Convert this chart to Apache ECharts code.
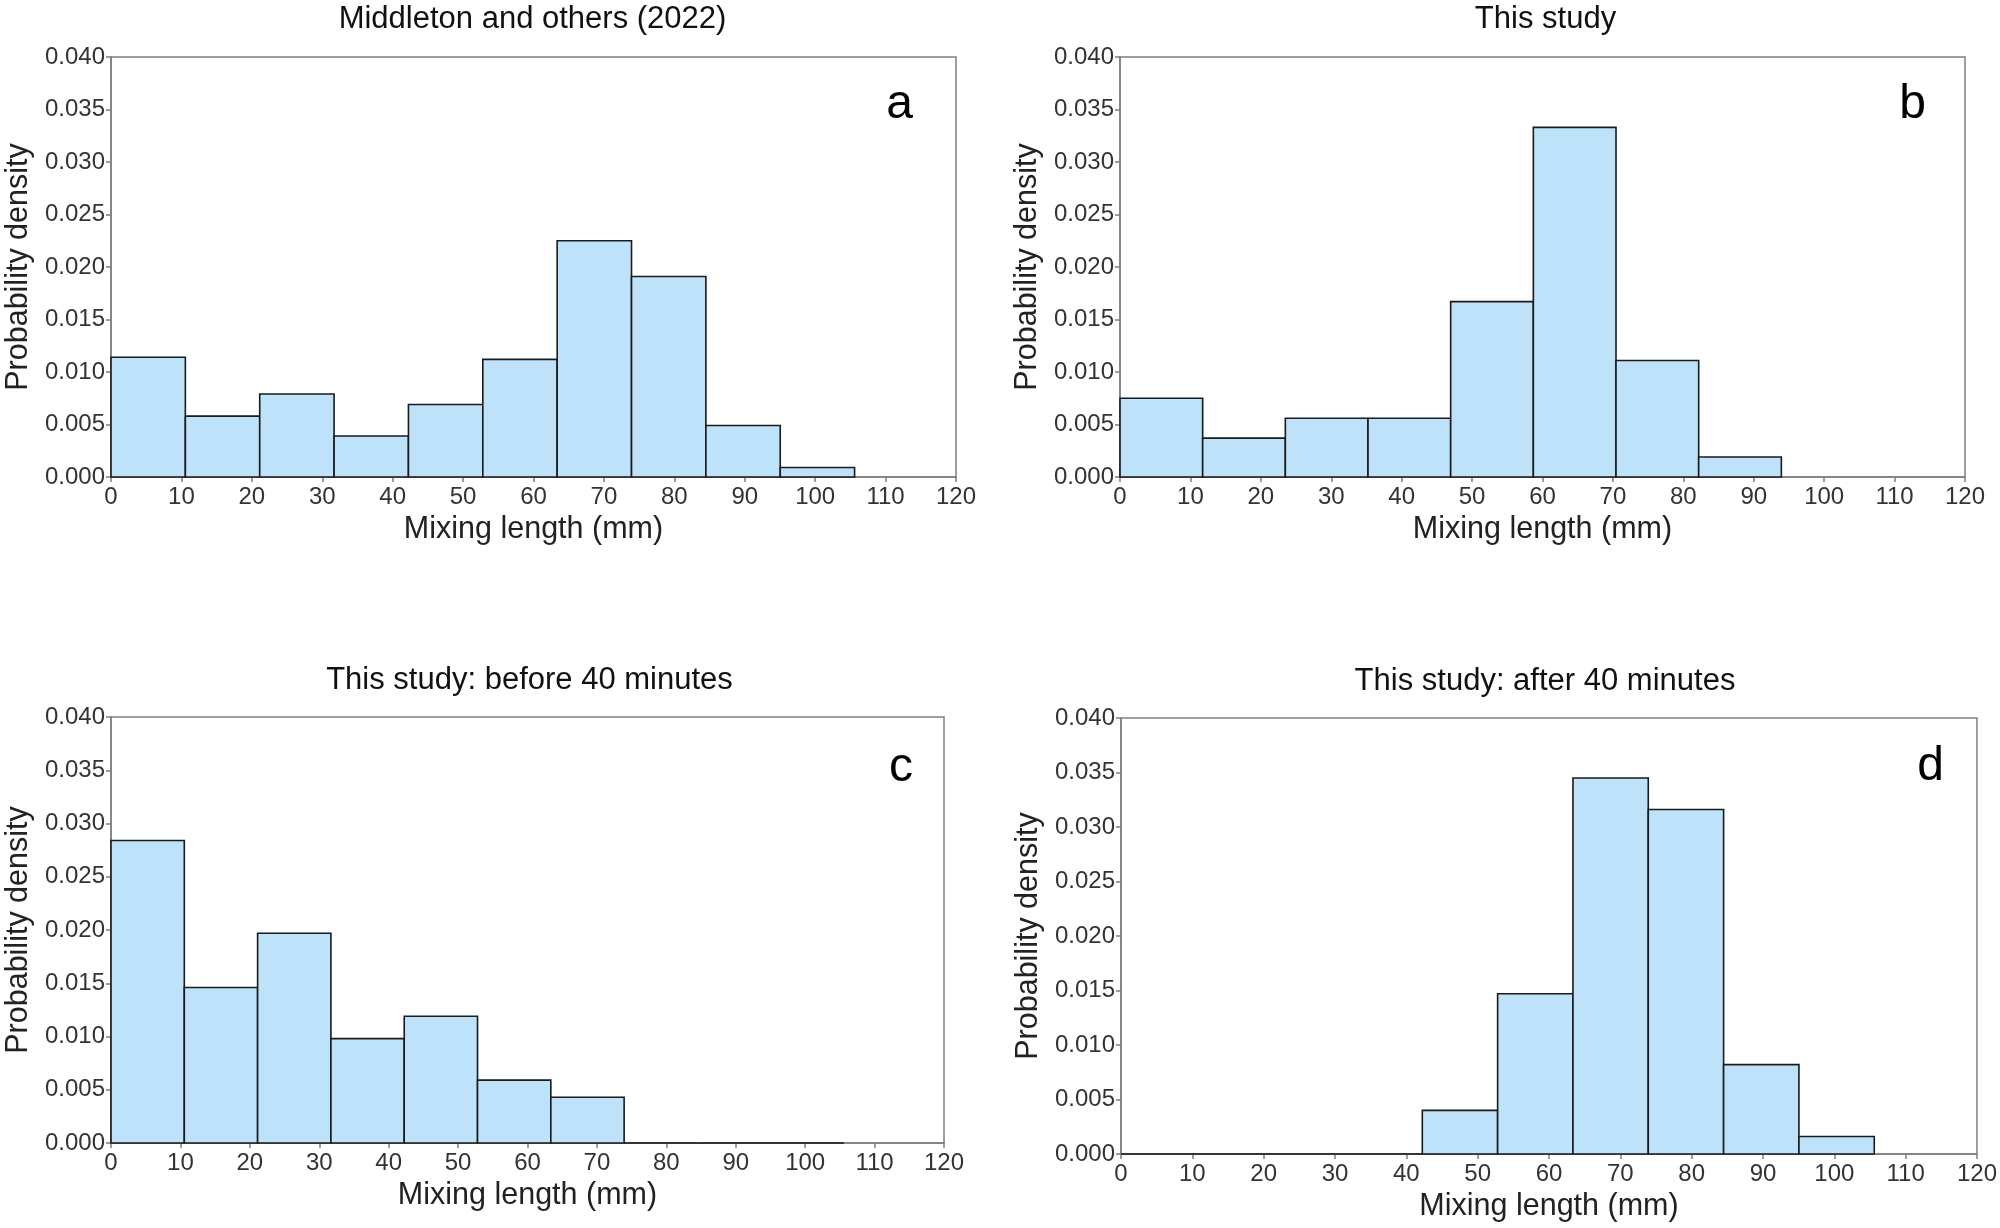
<!DOCTYPE html>
<html>
<head>
<meta charset="utf-8">
<script src="https://cdn.jsdelivr.net/npm/echarts@6/dist/echarts.min.js"></script>
<style>
html,body{margin:0;padding:0;background:#fff;}
#chart{width:2000px;height:1228px;}
</style>
</head>
<body>
<div id="chart"></div>
<script>
// Bin edges (mm)
const binEdges10 = [0, 10.56, 21.12, 31.68, 42.24, 52.8, 63.36, 73.92, 84.48, 95.04, 105.6];
const binEdges8 = [0, 11.74, 23.48, 35.22, 46.96, 58.7, 70.44, 82.18, 93.92];

// Probability densities per bin
const densityA = [0.0114, 0.0058, 0.0079, 0.0039, 0.0069, 0.0112, 0.0225, 0.0191, 0.0049, 0.0009];
const densityB = [0.0075, 0.0037, 0.0056, 0.0056, 0.0167, 0.0333, 0.0111, 0.0019];
const densityC = [0.0284, 0.0146, 0.0197, 0.0098, 0.0119, 0.0059, 0.0043, 0, 0, 0];
const densityD = [0, 0, 0, 0, 0.0040, 0.0147, 0.0345, 0.0316, 0.0082, 0.0016];

// Texts
const panelTitles = ['Middleton and others (2022)', 'This study', 'This study: before 40 minutes', 'This study: after 40 minutes'];
const panelLetters = ['a', 'b', 'c', 'd'];
const xAxisName = 'Mixing length (mm)';
const yAxisName = 'Probability density';

const panels = [
  {edges: binEdges10, dens: densityA},
  {edges: binEdges8, dens: densityB},
  {edges: binEdges10, dens: densityC},
  {edges: binEdges10, dens: densityD}
];

// layout (px)
const grids = [
  {left: 111, top: 57, width: 845, height: 420},
  {left: 1120, top: 57, width: 845, height: 420},
  {left: 111, top: 717, width: 833, height: 426},
  {left: 1121, top: 718, width: 856, height: 436}
];
const titleShift = [-6, -2, -3, -9];
const letterPos = [
  {right: 43, top: 24},
  {right: 39, top: 24},
  {right: 31, top: 27},
  {right: 33, top: 25}
];

const FONT = '"Liberation Sans", Arial, sans-serif';
const frameColor = '#7f7f7f';

const option = {
  animation: false,
  backgroundColor: '#fff',
  title: [],
  grid: [],
  xAxis: [],
  yAxis: [],
  series: [],
  graphic: []
};

grids.forEach((g, i) => {
  option.grid.push({
    left: g.left, top: g.top, width: g.width, height: g.height,
    show: true, borderColor: frameColor, borderWidth: 1.5, backgroundColor: 'transparent'
  });
  option.xAxis.push({
    gridIndex: i, type: 'value', min: 0, max: 120, interval: 10,
    name: xAxisName, nameLocation: 'middle', nameGap: 37,
    nameTextStyle: {fontFamily: FONT, fontSize: 30.5, color: '#222', verticalAlign: 'top'},
    axisLine: {show: true, onZero: false, lineStyle: {color: frameColor, width: 1.5}},
    axisTick: {show: true, length: 5, lineStyle: {color: frameColor, width: 1.5}},
    axisLabel: {fontFamily: FONT, fontSize: 24, color: '#333', margin: 8},
    splitLine: {show: false}
  });
  option.yAxis.push({
    gridIndex: i, type: 'value', min: 0, max: 0.04, interval: 0.005,
    name: yAxisName, nameLocation: 'middle', nameGap: 77, nameRotate: 90,
    nameTextStyle: {fontFamily: FONT, fontSize: 30.5, color: '#222'},
    axisLine: {show: true, onZero: false, lineStyle: {color: frameColor, width: 1.5}},
    axisTick: {show: true, length: 5, lineStyle: {color: frameColor, width: 1.5}},
    axisLabel: {fontFamily: FONT, fontSize: 24, color: '#333', margin: 6,
      formatter: v => v.toFixed(3)},
    splitLine: {show: false}
  });
  const p = panels[i];
  option.series.push({
    type: 'custom',
    xAxisIndex: i, yAxisIndex: i,
    data: p.dens.map((d, k) => [p.edges[k], p.edges[k + 1], d]),
    encode: {x: [0, 1], y: 2},
    renderItem: function (params, api) {
      const a = api.coord([api.value(0), api.value(2)]);
      const b = api.coord([api.value(1), 0]);
      return {
        type: 'rect',
        shape: {x: a[0], y: a[1], width: b[0] - a[0], height: b[1] - a[1]},
        style: {fill: '#bde2fa', stroke: '#1a1a1a', lineWidth: 1.6}
      };
    }
  });
  option.title.push({
    text: panelTitles[i],
    left: g.left + g.width / 2 + titleShift[i], top: g.top - (i < 2 ? 58 : 57),
    textAlign: 'center',
    textStyle: {fontFamily: FONT, fontSize: 31, fontWeight: 'normal', color: '#111'}
  });
  option.graphic.push({
    type: 'text',
    right: 2000 - (g.left + g.width) + letterPos[i].right,
    top: g.top + letterPos[i].top,
    style: {text: panelLetters[i], font: '48px ' + FONT, fill: '#000'}
  });
});

const chart = echarts.init(document.getElementById('chart'), null, {renderer: 'canvas'});
chart.setOption(option);
</script>
</body>
</html>
